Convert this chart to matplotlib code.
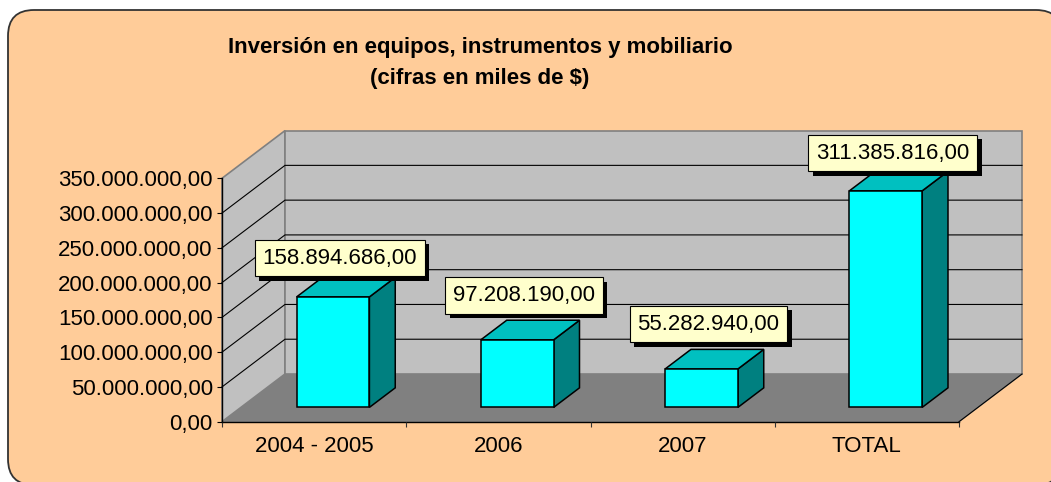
import numpy as np
import matplotlib
matplotlib.use("Agg")
import matplotlib.pyplot as plt
import matplotlib.patheffects as pe
from matplotlib import font_manager as fm
from matplotlib.patches import Polygon, FancyBboxPatch
from matplotlib.ticker import FuncFormatter

# data
categories = ["2004 - 2005", "2006", "2007", "TOTAL"]
values = [158894686.00, 97208190.00, 55282940.00, 311385816.00]
y_ticks = np.arange(0, 350_000_001, 50_000_000)
title_lines = ["Inversión en equipos, instrumentos y mobiliario",
               "(cifras en miles de $)"]

W, H, DPI = 1051, 482, 100
plt.rcParams["font.family"] = ["Liberation Sans", "DejaVu Sans"]

_names = {f.name for f in fm.fontManager.ttflist}
if "Liberation Sans Narrow" in _names:
    TITLE_FAM, TITLE_SIZE = ["Liberation Sans Narrow", "DejaVu Sans"], 18.5
else:
    TITLE_FAM, TITLE_SIZE = ["Liberation Sans", "DejaVu Sans"], 16

C_BG = "#FFCC99"
C_WALL = "#C0C0C0"
C_FLOOR = "#808080"
C_FRONT = "#00FFFF"
C_TOP = "#00C0C0"
C_SIDE = "#008080"
C_LABEL = "#FFFFCC"


def es_num(v, _pos=None):
    # 1234567.5 -> "1.234.567,50"
    return f"{v:,.2f}".replace(",", "X").replace(".", ",").replace("X", ".")


fig = plt.figure(figsize=(W / DPI, H / DPI), dpi=DPI, facecolor="white")

# chart area: rounded box + title, in pixel coords
bg = fig.add_axes([0, 0, 1, 1])
bg.set_xlim(0, W); bg.set_ylim(H, 0); bg.axis("off")
bg.add_patch(FancyBboxPatch((8, 10), 1054, 475, boxstyle="round,pad=0,rounding_size=26",
                            fc=C_BG, ec="#333333", lw=1.3))
bg.text(480, 53, title_lines[0], ha="center", va="baseline", fontsize=TITLE_SIZE,
        fontweight="bold", family=TITLE_FAM)
bg.text(480, 84, title_lines[1], ha="center", va="baseline", fontsize=TITLE_SIZE,
        fontweight="bold", family=TITLE_FAM)

# front plane of the 3-D box
x0, x1, y0, y1 = 222, 959, 421.7, 178.3
ax = fig.add_axes([x0 / W, (H - y0) / H, (x1 - x0) / W, (y0 - y1) / H], zorder=2)
n = len(categories)
ymax = y_ticks[-1]
ax.set_xlim(0, n); ax.set_ylim(0, ymax)
ax.patch.set_visible(False)

# depth offset, converted from pixels into data units
px_x = (x1 - x0) / n
px_y = (y0 - y1) / ymax
DX, DY = 63 / px_x, 47.7 / px_y
BW = 0.395            # bar width (category units)
F0, F1 = 0.30, 0.71   # bar front / back depth fraction

kw = dict(clip_on=False)
ax.add_patch(Polygon([(0, 0), (n, 0), (n + DX, DY), (DX, DY)], fc=C_FLOOR, ec=C_FLOOR,
                     lw=1.0, zorder=0.5, **kw))
ax.add_patch(Polygon([(0, 0), (DX, DY), (DX, ymax + DY), (0, ymax)], fc=C_WALL, ec="#808080",
                     lw=1.2, zorder=0.6, **kw))
ax.add_patch(Polygon([(DX, DY), (n + DX, DY), (n + DX, ymax + DY), (DX, ymax + DY)],
                     fc=C_WALL, ec="#808080", lw=1.2, zorder=0.6, **kw))
ax.plot([n, n + DX], [0, DY], color="black", lw=0.8, zorder=0.7, **kw)
for v in y_ticks[1:-1]:
    ax.plot([0, DX, n + DX], [v, v + DY, v + DY], color="black", lw=0.8, zorder=0.8, **kw)

label_gap_px = [1, 6.5, 7, 0]
for i, v in enumerate(values):
    xl = i + 0.5 - BW / 2
    xr = xl + BW
    side = [(xr + F0 * DX, F0 * DY), (xr + F1 * DX, F1 * DY),
            (xr + F1 * DX, v + F1 * DY), (xr + F0 * DX, v + F0 * DY)]
    top = [(xl + F0 * DX, v + F0 * DY), (xr + F0 * DX, v + F0 * DY),
           (xr + F1 * DX, v + F1 * DY), (xl + F1 * DX, v + F1 * DY)]
    front = [(xl + F0 * DX, F0 * DY), (xr + F0 * DX, F0 * DY),
             (xr + F0 * DX, v + F0 * DY), (xl + F0 * DX, v + F0 * DY)]
    for pts, c in ((side, C_SIDE), (top, C_TOP), (front, C_FRONT)):
        ax.add_patch(Polygon(pts, fc=c, ec="black", lw=1.1, joinstyle="miter",
                             zorder=3, **kw))

    pad = 0.35
    dy_pt = (label_gap_px[i] + pad * 16 * DPI / 72) * 72 / DPI
    t = ax.annotate(es_num(v), xy=(i + 0.5 + F0 * DX, v + F1 * DY),
                    xytext=(5, dy_pt), textcoords="offset points",
                    ha="center", va="bottom", fontsize=16, zorder=5,
                    annotation_clip=False,
                    bbox=dict(boxstyle=f"square,pad={pad}", fc=C_LABEL, ec="black", lw=0.8))
    t.get_bbox_patch().set_path_effects(
        [pe.SimplePatchShadow(offset=(3.2, -3.2), shadow_rgbFace="black", alpha=1.0),
         pe.Normal()])

# axes
for s in ("top", "right"):
    ax.spines[s].set_visible(False)
for s in ("left", "bottom"):
    ax.spines[s].set_color("black")
    ax.spines[s].set_linewidth(1.0)
    ax.spines[s].set_zorder(1)

ax.set_yticks(y_ticks)
ax.yaxis.set_major_formatter(FuncFormatter(es_num))
ax.tick_params(axis="y", direction="out", length=3.6, width=0.8, labelsize=16, pad=3)

ax.set_xticks(np.arange(n) + 0.5, labels=categories)
ax.set_xticks(np.arange(n + 1), minor=True)
ax.tick_params(axis="x", which="major", length=0, labelsize=16, pad=10)
ax.tick_params(axis="x", which="minor", direction="out", length=3.6, width=0.8, color="#333333")

fig.savefig("out.png", dpi=DPI, facecolor=fig.get_facecolor())
plt.close(fig)
